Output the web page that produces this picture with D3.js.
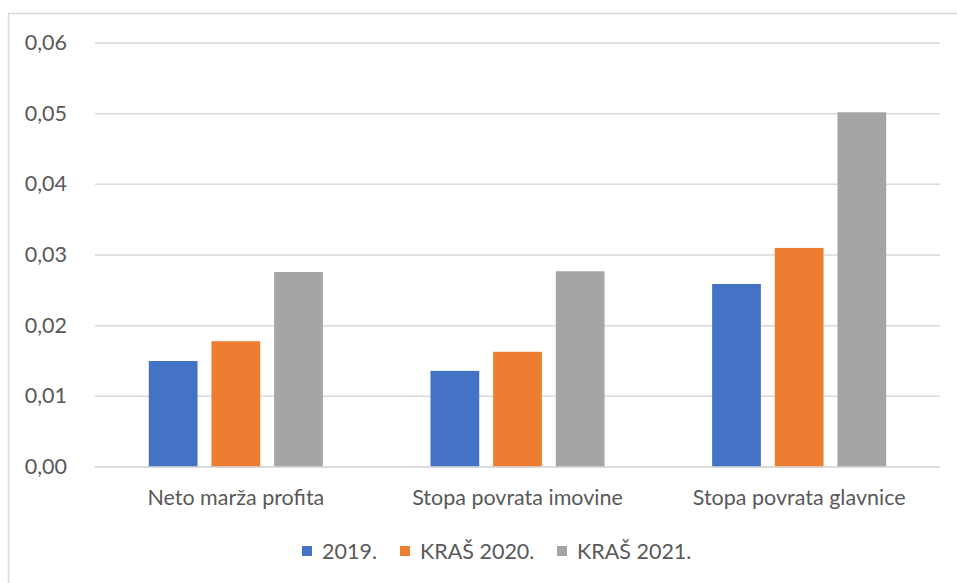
<!DOCTYPE html>
<html>
<head>
<meta charset="utf-8">
<script src="https://cdn.jsdelivr.net/npm/d3@7"></script>
<style>
  body { margin: 0; background: #fff; }
  svg { display: block; font-family: Lato, "Open Sans", sans-serif; }
</style>
</head>
<body>
<svg id="chart" width="957" height="583"></svg>
<script>
// Chart data
const categories = ['Neto marža profita', 'Stopa povrata imovine', 'Stopa povrata glavnice'];
const seriesNames = ['2019.', 'KRAŠ 2020.', 'KRAŠ 2021.'];
const values2019 = [0.0150, 0.0136, 0.0259];
const values2020 = [0.0178, 0.0163, 0.0310];
const values2021 = [0.0276, 0.0277, 0.0502];
const yTicks = [0, 0.01, 0.02, 0.03, 0.04, 0.05, 0.06];
const colors = ['#4472C4', '#ED7D31', '#A5A5A5'];

const seriesValues = [values2019, values2020, values2021];

const svg = d3.select('#chart');
const textColor = '#595959';
const fontSize = 21.5;

// outer chart border
svg.append('rect')
  .attr('x', 8.5).attr('y', 13.5)
  .attr('width', 1000).attr('height', 1000)
  .attr('fill', 'none')
  .attr('stroke', '#D9D9D9')
  .attr('stroke-width', 1.5);

const plot = { left: 95, right: 940, top: 43, bottom: 467 };

const y = d3.scaleLinear()
  .domain([0, 0.06])
  .range([plot.bottom, plot.top]);

const x0 = d3.scaleBand()
  .domain(categories)
  .range([plot.left, plot.right])
  .paddingInner(0.382)
  .paddingOuter(0.191);

const x1 = d3.scaleBand()
  .domain(seriesNames)
  .range([0, x0.bandwidth()])
  .paddingInner(0.222);

const fmt = v => d3.format('.2f')(v).replace('.', ',');

// gridlines
svg.append('g')
  .selectAll('line')
  .data(yTicks)
  .join('line')
  .attr('x1', plot.left).attr('x2', plot.right)
  .attr('y1', d => y(d)).attr('y2', d => y(d))
  .attr('stroke', '#D9D9D9')
  .attr('stroke-width', 1.5);

// y tick labels
svg.append('g')
  .selectAll('text')
  .data(yTicks)
  .join('text')
  .attr('x', 67)
  .attr('y', d => y(d))
  .attr('dy', '0.33em')
  .attr('text-anchor', 'end')
  .attr('font-size', fontSize)
  .attr('fill', textColor)
  .text(fmt);

// bars
const groups = svg.append('g')
  .selectAll('g')
  .data(categories)
  .join('g')
  .attr('transform', d => `translate(${x0(d)},0)`);

groups.selectAll('rect')
  .data((c, i) => seriesNames.map((s, j) => ({ s, j, v: seriesValues[j][i] })))
  .join('rect')
  .attr('x', d => x1(d.s))
  .attr('width', x1.bandwidth())
  .attr('y', d => y(d.v))
  .attr('height', d => y(0) - y(d.v))
  .attr('fill', d => colors[d.j]);

// redraw baseline over bars
svg.append('line')
  .attr('x1', plot.left).attr('x2', plot.right)
  .attr('y1', y(0)).attr('y2', y(0))
  .attr('stroke', '#D9D9D9')
  .attr('stroke-width', 1.5);

// category labels
svg.append('g')
  .selectAll('text')
  .data(categories)
  .join('text')
  .attr('x', d => x0(d) + x0.bandwidth() / 2)
  .attr('y', 505)
  .attr('text-anchor', 'middle')
  .attr('font-size', fontSize)
  .attr('fill', textColor)
  .text(d => d);

// legend
const legendX = [302, 400, 557];
const legend = svg.append('g')
  .selectAll('g')
  .data(seriesNames)
  .join('g')
  .attr('transform', (d, i) => `translate(${legendX[i]},551)`);

legend.append('rect')
  .attr('x', 0).attr('y', -5)
  .attr('width', 10).attr('height', 10)
  .attr('fill', (d, i) => colors[i]);

legend.append('text')
  .attr('x', 20)
  .attr('dy', '0.35em')
  .attr('font-size', fontSize)
  .attr('fill', textColor)
  .text(d => d);
</script>
</body>
</html>
